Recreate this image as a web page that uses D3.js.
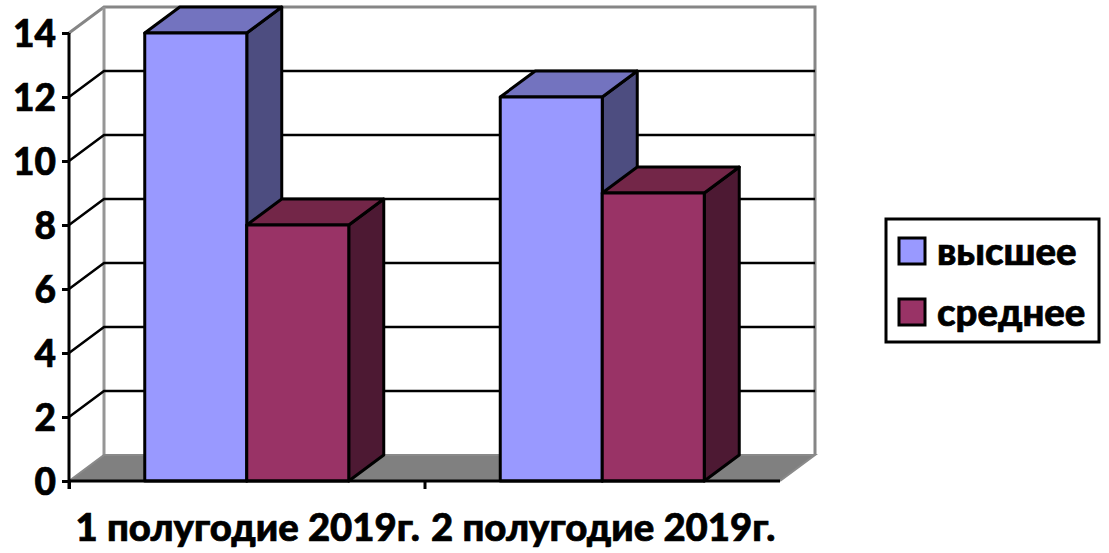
<!DOCTYPE html>
<html><head><meta charset="utf-8">
<script src="https://cdn.jsdelivr.net/npm/d3@7/dist/d3.min.js"></script>
<style>html,body{margin:0;padding:0;background:#fff}svg{display:block}text{font-family:Lato,"Open Sans",sans-serif;font-weight:900;fill:#000;stroke:#000;stroke-width:0.7px}</style>
</head><body><svg id="c" width="1109" height="553"></svg>
<script>
const categories=["1 полугодие 2019г.","2 полугодие 2019г."];
const seriesNames=["высшее","среднее"];
const higher=[14,12];
const secondary=[8,9];
const yTicks=[0,2,4,6,8,10,12,14];
const colors={"высшее":["#9999ff","#7373bf","#4d4d80"],"среднее":["#993366","#732648","#4d1933"]};
const W=1109,H=553,dx=35,dy=-26;
const svg=d3.select("#c");
const y=d3.scaleLinear().domain([0,14]).range([481,33]);
const x0=d3.scaleBand().domain(categories).range([69,780]);
const x1=d3.scaleBand().domain(seriesNames).range([0,204]);
const xEdges=d3.scaleLinear().domain([0,2]).range([69,780]);
const L=69,R=780,B=y(0),T=y(14);
const poly=(pts,fill,stroke,sw)=>svg.append("path").attr("d","M"+pts.map(p=>p.join(",")).join("L")+"Z").attr("fill",fill).attr("stroke",stroke).attr("stroke-width",sw).attr("stroke-linejoin","round");
// floor
poly([[L,B],[L+dx,B+dy],[R+dx,B+dy],[R,B]],"#808080","none",0);
// back wall
svg.append("path").attr("d",`M${L},${T}L${L+dx},${T+dy}H${R+dx}V${B+dy}`).attr("fill","none").attr("stroke","#868686").attr("stroke-width",3);
svg.append("path").attr("d",`M${L+dx},${T+dy}V${B+dy}`).attr("fill","none").attr("stroke","#969696").attr("stroke-width",3);
svg.append("path").attr("d",`M${L},${B}L${L+dx},${B+dy}H${R+dx}L${R},${B}`).attr("fill","none").attr("stroke","#8a8a8a").attr("stroke-width",2);
// gridlines
yTicks.filter(t=>t>0&&t<14).forEach(t=>{
  svg.append("path").attr("d",`M${L},${y(t)}L${L+dx},${y(t)+dy}H${R+dx}`).attr("fill","none").attr("stroke","#000").attr("stroke-width",2.5);
});
// bars
const sw=3;
function bar(xl,w,v,c){
  const t=y(v);
  poly([[xl+w,t],[xl+w+dx,t+dy],[xl+w+dx,B+dy],[xl+w,B]],c[2],"#000",sw);
  poly([[xl,t],[xl+dx,t+dy],[xl+w+dx,t+dy],[xl+w,t]],c[1],"#000",sw);
  poly([[xl,t],[xl+w,t],[xl+w,B],[xl,B]],c[0],"#000",sw);
}
categories.forEach((cat,i)=>{
  const off=x0(cat)+(x0.bandwidth()-x1.range()[1])/2;
  bar(off+x1(seriesNames[0]),x1.bandwidth(),higher[i],colors[seriesNames[0]]);
  bar(off+x1(seriesNames[1]),x1.bandwidth(),secondary[i],colors[seriesNames[1]]);
});
// axes
const ay=svg.append("g").attr("transform",`translate(${L},0)`).call(d3.axisLeft(y).tickValues(yTicks).tickSize(7).tickFormat(""));
ay.selectAll("path,line").attr("stroke","#000").attr("stroke-width",3);
ay.select("path").attr("d",`M0,${T}V${B+8}`);
yTicks.forEach(t=>svg.append("text").attr("x",56).attr("y",y(t)+1).attr("dy","0.36em").attr("text-anchor","end").attr("font-size",37).text(t));
const ax=svg.append("g").attr("transform",`translate(0,${B})`).call(d3.axisBottom(xEdges).tickValues([0,1]).tickSize(8).tickFormat(""));
ax.selectAll("path,line").attr("stroke","#000").attr("stroke-width",3);
ax.select("path").attr("d",`M${L},0H${R}`);
categories.forEach(c=>svg.append("text").attr("x",x0(c)+x0.bandwidth()/2+1).attr("y",541).attr("text-anchor","middle").attr("font-size",38.3).text(c));
// legend
svg.append("rect").attr("x",886).attr("y",219).attr("width",213).attr("height",123).attr("fill","#fff").attr("stroke","#000").attr("stroke-width",3);
const ly=d3.scalePoint().domain(seriesNames).range([251,312]);
seriesNames.forEach(n=>{
  svg.append("rect").attr("x",899).attr("y",ly(n)-13).attr("width",26).attr("height",26).attr("fill",colors[n][0]).attr("stroke","#000").attr("stroke-width",3);
  svg.append("text").attr("x",937).attr("y",ly(n)+14).attr("font-size",38.3).text(n);
});
</script></body></html>
